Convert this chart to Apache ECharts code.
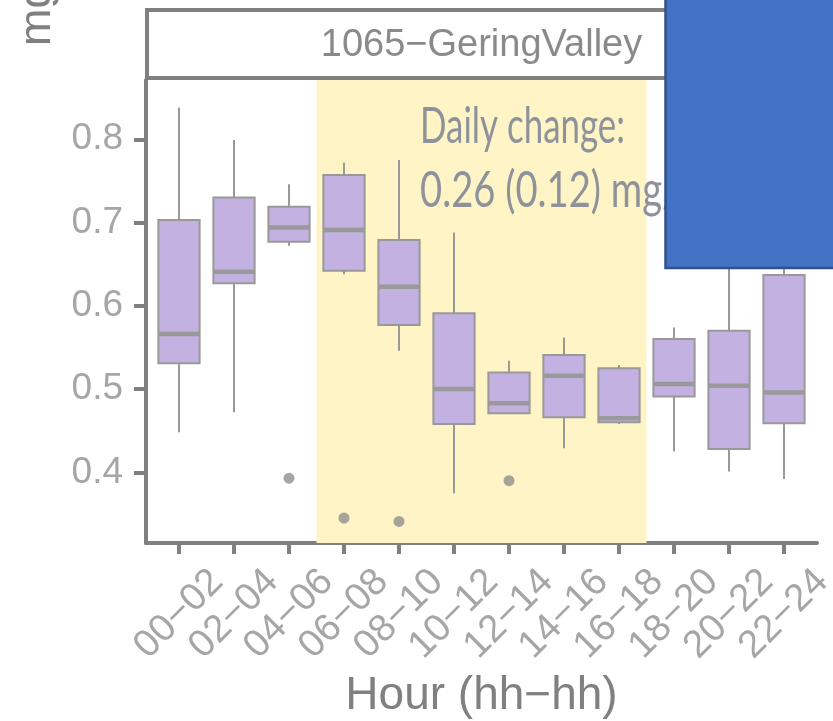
<!DOCTYPE html>
<html><head><meta charset="utf-8">
<script src="https://cdn.jsdelivr.net/npm/echarts@6/dist/echarts.min.js"></script>
<style>html,body{margin:0;padding:0;background:#fff}#c{width:833px;height:721px}</style>
</head><body><div id="c"></div>
<script>
// ---- data ----
const hours = ['00−02','02−04','04−06','06−08','08−10','10−12','12−14','14−16','16−18','18−20','20−22','22−24'];
const whiskerLow  = [0.448,0.472,0.672,0.638,0.546,0.375,0.470,0.429,0.458,0.425,0.401,0.392];
const q1          = [0.531,0.627,0.677,0.642,0.577,0.458,0.471,0.466,0.460,0.491,0.428,0.459];
const median      = [0.566,0.641,0.694,0.691,0.623,0.500,0.483,0.516,0.465,0.506,0.504,0.496];
const q3          = [0.703,0.730,0.719,0.757,0.679,0.591,0.520,0.541,0.525,0.560,0.570,0.637];
const whiskerHigh = [0.838,0.799,0.746,0.772,0.775,0.688,0.534,0.562,0.529,0.574,0.720,0.750];
const outlierHour  = ['04−06','06−08','08−10','12−14'];
const outlierValue = [0.393,0.345,0.341,0.390];
const daylightHours = ['06−08','16−18'];
const yTicks = [0.4,0.5,0.6,0.7,0.8];
const stationName = '1065−GeringValley';
const annotationLines = ['Daily change:', '0.26 (0.12) mg/L'];
const yTitle = 'mg/L';
const xTitle = 'Hour (hh−hh)';

// ---- build ----
const xPos = hours.map((h, i) => i + 1);
const boxData = hours.map((h, i) => [i + 1, whiskerLow[i], q1[i], median[i], q3[i], whiskerHigh[i]]);
const outlierData = outlierHour.map((h, i) => [hours.indexOf(h) + 1, outlierValue[i]]);

const LINE = '#999999', FILL = '#C3B1E1', AXIS = '#808080', TICKTXT = '#A6A6A6';
const FONT = '"Liberation Sans", Arial, Helvetica, sans-serif';

// condensed annotation font via horizontal scaling
const annFontSize = 50;
const annFont = annFontSize + 'px Lato, "Liberation Sans", sans-serif';
const cv = document.createElement('canvas').getContext('2d');
cv.font = annFont;
const annScale1 = 205 / cv.measureText(annotationLines[0]).width;
const annScale2 = 242 / cv.measureText(annotationLines[1].slice(0, 14)).width;

const chart = echarts.init(document.getElementById('c'), null, {renderer: 'canvas'});
chart.setOption({
  animation: false,
  backgroundColor: '#ffffff',
  grid: {left: 146, right: 16, top: 80, bottom: 178, containLabel: false, outerBoundsMode: 'none'},
  xAxis: {
    type: 'value', min: 0.4, max: 12.6,
    axisLine: {show: true, onZero: false, lineStyle: {color: AXIS, width: 4}},
    axisTick: {show: true, customValues: xPos, length: 11, lineStyle: {color: AXIS, width: 4}},
    axisLabel: {customValues: xPos, formatter: v => hours[Math.round(v) - 1], rotate: 45,
      align: 'center', verticalAlign: 'middle', margin: 71, color: TICKTXT, fontSize: 38.5, fontFamily: FONT},
    splitLine: {show: false},
    name: xTitle, nameLocation: 'middle', nameGap: 130, nameMoveOverlap: false,
    nameTextStyle: {color: AXIS, fontSize: 46, fontFamily: FONT}
  },
  yAxis: {
    type: 'value', min: 0.3151, max: 0.8712,
    axisLine: {show: true, onZero: false, lineStyle: {color: AXIS, width: 4}},
    axisTick: {show: true, customValues: yTicks, length: 12, lineStyle: {color: AXIS, width: 4}},
    axisLabel: {customValues: yTicks, formatter: v => v.toFixed(1), margin: 23, color: TICKTXT, fontSize: 37, fontFamily: FONT},
    splitLine: {show: false}
  },
  series: [
    {
      type: 'custom',
      z: 3,
      data: boxData,
      encode: {x: 0, y: [1, 2, 3, 4, 5]},
      renderItem: function (params, api) {
        const x = api.value(0);
        const lo = api.coord([x, api.value(1)]);
        const b1 = api.coord([x, api.value(2)]);
        const md = api.coord([x, api.value(3)]);
        const b3 = api.coord([x, api.value(4)]);
        const hi = api.coord([x, api.value(5)]);
        const bw = api.size([0.75, 0])[0];
        return {
          type: 'group',
          children: [
            {type: 'line', shape: {x1: hi[0], y1: hi[1], x2: b3[0], y2: b3[1]}, style: {stroke: LINE, lineWidth: 2}},
            {type: 'line', shape: {x1: b1[0], y1: b1[1], x2: lo[0], y2: lo[1]}, style: {stroke: LINE, lineWidth: 2}},
            {type: 'rect', shape: {x: b3[0] - bw / 2, y: b3[1], width: bw, height: b1[1] - b3[1]},
              style: {fill: FILL, stroke: LINE, lineWidth: 2}},
            {type: 'line', shape: {x1: md[0] - bw / 2, y1: md[1], x2: md[0] + bw / 2, y2: md[1]},
              style: {stroke: LINE, lineWidth: 4.5}}
          ]
        };
      }
    },
    {
      type: 'scatter',
      z: 4,
      data: outlierData,
      symbol: 'circle', symbolSize: 11,
      itemStyle: {color: '#8F8F8F'},
      markArea: {
        silent: true,
        itemStyle: {color: '#FFF4C5', borderWidth: 0},
        data: [[{xAxis: hours.indexOf(daylightHours[0]) + 0.5}, {xAxis: hours.indexOf(daylightHours[1]) + 1.5}]]
      }
    }
  ],
  graphic: [
    {type: 'rect', z: 5, shape: {x: 147, y: 10, width: 670, height: 68},
      style: {fill: '#ffffff', stroke: AXIS, lineWidth: 4}},
    {type: 'text', z: 6, x: 481.5, y: 46,
      style: {text: stationName, fill: '#8A8A8A', font: '38px ' + FONT,
        align: 'center', verticalAlign: 'middle', textAlign: 'center', textVerticalAlign: 'middle'}},
    {type: 'text', z: 6, x: 60, y: 46, rotation: Math.PI / 2,
      style: {text: yTitle, fill: AXIS, font: '45px ' + FONT,
        align: 'left', verticalAlign: 'bottom', textAlign: 'left', textVerticalAlign: 'bottom'}},
    {type: 'text', z: 10, x: 420, y: 127, scaleX: annScale1,
      style: {text: annotationLines[0], fill: '#8E939B', font: annFont,
        align: 'left', verticalAlign: 'middle', textAlign: 'left', textVerticalAlign: 'middle'}},
    {type: 'text', z: 10, x: 420, y: 191, scaleX: annScale2,
      style: {text: annotationLines[1], fill: '#8E939B', font: annFont,
        align: 'left', verticalAlign: 'middle', textAlign: 'left', textVerticalAlign: 'middle'}},
    {type: 'rect', z: 20, shape: {x: 665.5, y: -10, width: 200, height: 278},
      style: {fill: '#4472C4', stroke: '#2F528F', lineWidth: 2.5}}
  ]
});
</script>
</body></html>
